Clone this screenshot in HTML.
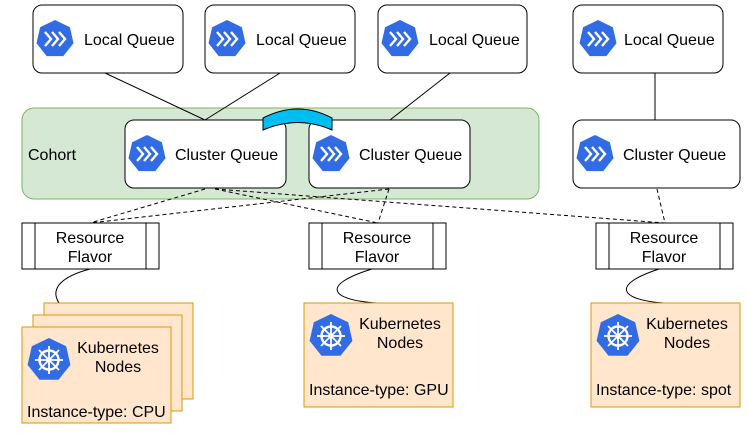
<!DOCTYPE html><html><head><style>body{margin:0;background:#fff}</style></head><body>
<svg width="748" height="439" viewBox="0 0 748 439" xmlns="http://www.w3.org/2000/svg" font-family="Liberation Sans, sans-serif" font-size="16">
<defs>
<g id="kq"><polygon points="0,-19 14.9,-11.8 18.5,4.2 8.3,17.1 -8.3,17.1 -18.5,4.2 -14.9,-11.8" fill="#326ce5"/>
<path d="M-10,-7 L-4,0 L-10,7 M-3,-7 L3,0 L-3,7 M4,-7 L10,0 L4,7" stroke="#fff" stroke-width="2.4" fill="none"/></g>
<g id="k8"><polygon points="0,-22 17.2,-13.7 21.4,4.9 9.5,19.8 -9.5,19.8 -21.4,4.9 -17.2,-13.7" fill="#326ce5"/>
<circle r="9.5" fill="none" stroke="#fff" stroke-width="2.4"/><circle r="2.5" fill="#fff"/>
<path d="M0,-14V14M-14,0H14M-10,-10L10,10M10,-10L-10,10" stroke="#fff" stroke-width="1.8"/></g>
</defs>
<rect x="22" y="108" width="517" height="91" rx="12" fill="#d5e8d4" stroke="#82b366"/>
<text x="28" y="160">Cohort</text>
<g stroke="#000" fill="none">
<line x1="105" y1="73" x2="205" y2="120"/><line x1="280" y1="73" x2="205" y2="120"/>
<line x1="450" y1="73" x2="390" y2="120"/><line x1="655" y1="73" x2="655" y2="120"/>
<g stroke-dasharray="4,3">
<line x1="205" y1="189" x2="90" y2="223"/><line x1="215" y1="189" x2="378" y2="223"/>
<line x1="215" y1="189" x2="665" y2="223"/>
<line x1="389" y1="189" x2="90" y2="223"/><line x1="389" y1="189" x2="378" y2="223"/>
<line x1="657" y1="189" x2="665" y2="223"/></g>
<path d="M90,269 C30,285 60,315 97,327"/>
<path d="M372,269 C320,285 330,300 377,303"/>
<path d="M659,269 C610,285 620,300 664,303"/>
</g>
<g fill="#fff" stroke="#000">
<rect x="33" y="5" width="150" height="68" rx="9"/><rect x="205" y="5" width="150" height="68" rx="9"/>
<rect x="378" y="5" width="149" height="68" rx="9"/><rect x="573" y="5" width="150" height="68" rx="9"/>
<rect x="125" y="120" width="161" height="68" rx="9"/><rect x="309" y="120" width="161" height="68" rx="9"/>
<rect x="573" y="120" width="167" height="68" rx="9"/>
<rect x="22" y="223" width="137" height="46"/><rect x="309" y="223" width="137" height="46"/><rect x="596" y="223" width="137" height="46"/>
<path d="M35,223V269M146,223V269M322,223V269M433,223V269M609,223V269M720,223V269"/>
</g>
<path d="M263,118 Q298,100 332,118 L332,130 Q298,115 263,130Z" fill="#00bef2" stroke="#000"/>
<g fill="#ffe6cc" stroke="#d79b00">
<rect x="44" y="303" width="149" height="96"/><rect x="33" y="315" width="149" height="96"/><rect x="22" y="327" width="149" height="96"/>
<rect x="304" y="303" width="149" height="104"/><rect x="591" y="303" width="149" height="104"/></g>
<use href="#kq" x="55" y="39"/><use href="#kq" x="227" y="39"/><use href="#kq" x="400" y="39"/><use href="#kq" x="598" y="39"/>
<use href="#kq" x="147" y="154"/><use href="#kq" x="331" y="154"/><use href="#kq" x="595" y="154"/>
<use href="#k8" x="49" y="360"/><use href="#k8" x="331" y="336"/><use href="#k8" x="618" y="336"/>
<g fill="#000">
<text x="84" y="45">Local Queue</text><text x="256" y="45">Local Queue</text><text x="429" y="45">Local Queue</text><text x="624" y="45">Local Queue</text>
<text x="175" y="160">Cluster Queue</text><text x="359" y="160">Cluster Queue</text><text x="623" y="160">Cluster Queue</text>
<g text-anchor="middle"><text x="90" y="243">Resource</text><text x="90" y="262">Flavor</text>
<text x="377" y="243">Resource</text><text x="377" y="262">Flavor</text>
<text x="664" y="243">Resource</text><text x="664" y="262">Flavor</text>
<text x="118" y="353">Kubernetes</text><text x="118" y="372">Nodes</text>
<text x="400" y="329">Kubernetes</text><text x="400" y="348">Nodes</text>
<text x="687" y="329">Kubernetes</text><text x="687" y="348">Nodes</text></g>
<text x="27" y="417">Instance-type: CPU</text><text x="309" y="395">Instance-type: GPU</text><text x="596" y="395">Instance-type: spot</text>
</g>
</svg></body></html>
